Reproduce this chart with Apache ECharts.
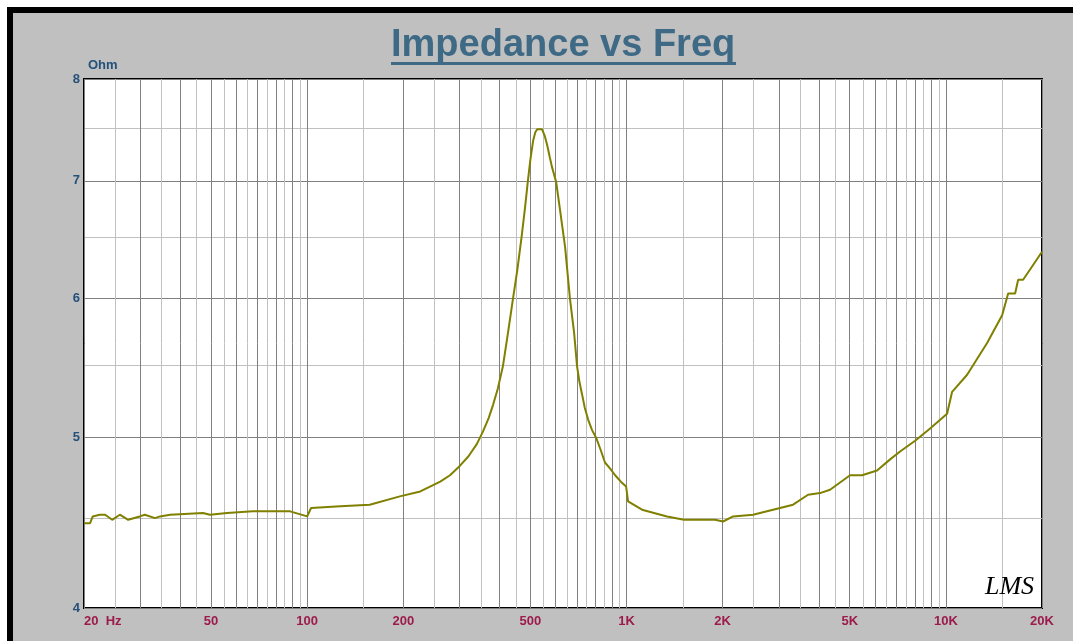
<!DOCTYPE html>
<html><head><meta charset="utf-8">
<script src="https://cdn.jsdelivr.net/npm/echarts@6/dist/echarts.min.js"></script>
<style>html,body{margin:0;padding:0;background:#fff}#c{width:1073px;height:641px}</style>
</head><body><div id="c"></div>
<script>
// ---- data ----
const freqHz = [20, 20.9, 21.3, 22.4, 23.3, 24.5, 25.9, 27.5, 29.9, 31.0, 33.4, 34.6, 37.2, 47.2, 49.6, 56.1, 67.6, 78.1, 88.4, 100, 102.8, 127, 157, 195, 226, 261, 280, 301, 320, 340, 355, 370, 382, 395, 410, 425, 441, 455, 469, 481, 491, 500, 510, 518, 525, 544, 555, 564, 575, 584, 602, 619, 642, 665, 685, 700, 712, 726, 740, 758, 780, 803, 830, 856, 890, 921, 960, 997, 1011, 1118, 1339, 1514, 1893, 2006, 2156, 2490, 2876, 3323, 3702, 4036, 4338, 5012, 5465, 6089, 6690, 7188, 8012, 8926, 10088, 10460, 11656, 13462, 15004, 15668, 16478, 16840, 17452, 18758, 20000];
const impedanceOhm = [4.47, 4.47, 4.51, 4.52, 4.52, 4.49, 4.52, 4.49, 4.51, 4.52, 4.50, 4.51, 4.52, 4.53, 4.52, 4.53, 4.54, 4.54, 4.54, 4.51, 4.56, 4.57, 4.58, 4.63, 4.66, 4.72, 4.76, 4.82, 4.88, 4.96, 5.04, 5.13, 5.22, 5.33, 5.49, 5.73, 6.00, 6.23, 6.50, 6.76, 7.00, 7.20, 7.38, 7.46, 7.49, 7.49, 7.42, 7.34, 7.22, 7.13, 6.99, 6.74, 6.42, 6.00, 5.74, 5.49, 5.38, 5.29, 5.20, 5.12, 5.05, 5.00, 4.92, 4.84, 4.80, 4.76, 4.72, 4.69, 4.60, 4.55, 4.51, 4.49, 4.49, 4.48, 4.51, 4.52, 4.55, 4.58, 4.64, 4.65, 4.67, 4.76, 4.76, 4.79, 4.86, 4.91, 4.98, 5.06, 5.16, 5.31, 5.43, 5.66, 5.87, 6.04, 6.04, 6.15, 6.15, 6.27, 6.38];
const xLabelValues = [20, 50, 100, 200, 500, 1000, 2000, 5000, 10000, 20000];
const xLabelTexts = ['20  Hz', '50', '100', '200', '500', '1K', '2K', '5K', '10K', '20K'];
const yLabelValues = [4, 5, 6, 7, 8];
const yLabelTexts = ['4', '5', '6', '7', '8'];
const yGridValues = [4, 4.5, 5, 5.5, 6, 6.5, 7, 7.5, 8];
// grid lines: every n*10^k (dark) and (n+0.5)*10^k (light)
const xGridValues = [];
[10, 100, 1000, 10000].forEach(function (dec) {
  for (let n = 1; n < 10; n += 0.5) {
    const v = n * dec;
    if (v >= 20 && v <= 20000) xGridValues.push(Math.round(v));
  }
});
if (xGridValues[xGridValues.length - 1] !== 20000) xGridValues.push(20000);

function lookup(vals, texts, v) {
  for (let i = 0; i < vals.length; i++) {
    if (Math.abs(v - vals[i]) / vals[i] < 1e-6) return texts[i];
  }
  return '';
}

const chart = echarts.init(document.getElementById('c'), null, {renderer: 'canvas'});
const titleColor = '#3e6a86';
chart.setOption({
  animation: false,
  backgroundColor: '#c0c0c0',
  title: {
    text: 'Impedance vs Freq', left: 391, top: 27, padding: 0,
    textStyle: {color: titleColor, fontSize: 38, fontWeight: 'bold', fontFamily: 'Liberation Sans'}
  },
  graphic: [
    {type: 'rect', shape: {x: 0, y: 0, width: 1073, height: 7}, style: {fill: '#fff'}, silent: true},
    {type: 'rect', shape: {x: 0, y: 0, width: 7, height: 641}, style: {fill: '#fff'}, silent: true},
    {type: 'rect', shape: {x: 7, y: 7, width: 1066, height: 6}, style: {fill: '#000'}, silent: true},
    {type: 'rect', shape: {x: 7, y: 7, width: 6, height: 634}, style: {fill: '#000'}, silent: true},
    {type: 'rect', shape: {x: 391, y: 62, width: 345, height: 3}, style: {fill: titleColor}, silent: true},
    {type: 'text', x: 88, y: 59, silent: true,
      style: {text: 'Ohm', fill: '#24507a', font: 'bold 13px "Liberation Sans", Arial, sans-serif'}},
    {type: 'text', x: 985, y: 574, z: 100, silent: true,
      style: {text: 'LMS', fill: '#000', font: 'italic 26px "Liberation Serif", serif'}}
  ],
  grid: {
    left: 84, top: 79, width: 958, height: 529, show: true,
    backgroundColor: '#fff', borderColor: '#000', borderWidth: 2, containLabel: false
  },
  xAxis: {
    type: 'log', logBase: 10, min: 20, max: 20000,
    axisLine: {show: false},
    axisTick: {show: false, customValues: xGridValues},
    minorTick: {show: false}, minorSplitLine: {show: false},
    splitLine: {show: true, lineStyle: {color: ['#808080', '#c0c0c0'], width: 1}},
    axisLabel: {
      customValues: xLabelValues,
      formatter: function (v) { return lookup(xLabelValues, xLabelTexts, v); },
      color: '#9c1a4c', fontWeight: 'bold', fontSize: 13, fontFamily: 'Liberation Sans',
      margin: 7, alignMinLabel: 'left', hideOverlap: false
    }
  },
  yAxis: {
    type: 'log', logBase: 10, min: 4, max: 8,
    axisLine: {show: false},
    axisTick: {show: false, customValues: yGridValues},
    minorTick: {show: false}, minorSplitLine: {show: false},
    splitLine: {show: true, lineStyle: {color: ['#808080', '#c0c0c0'], width: 1}},
    axisLabel: {
      customValues: yLabelValues,
      formatter: function (v) { return lookup(yLabelValues, yLabelTexts, v); },
      color: '#24507a', fontWeight: 'bold', fontSize: 13, fontFamily: 'Liberation Sans',
      margin: 4, hideOverlap: false
    }
  },
  series: [{
    type: 'line', silent: true, showSymbol: false, symbol: 'none', smooth: false,
    data: freqHz.map(function (f, i) { return [f, impedanceOhm[i]]; }),
    lineStyle: {color: '#808000', width: 2}
  }]
});
</script>
</body></html>
